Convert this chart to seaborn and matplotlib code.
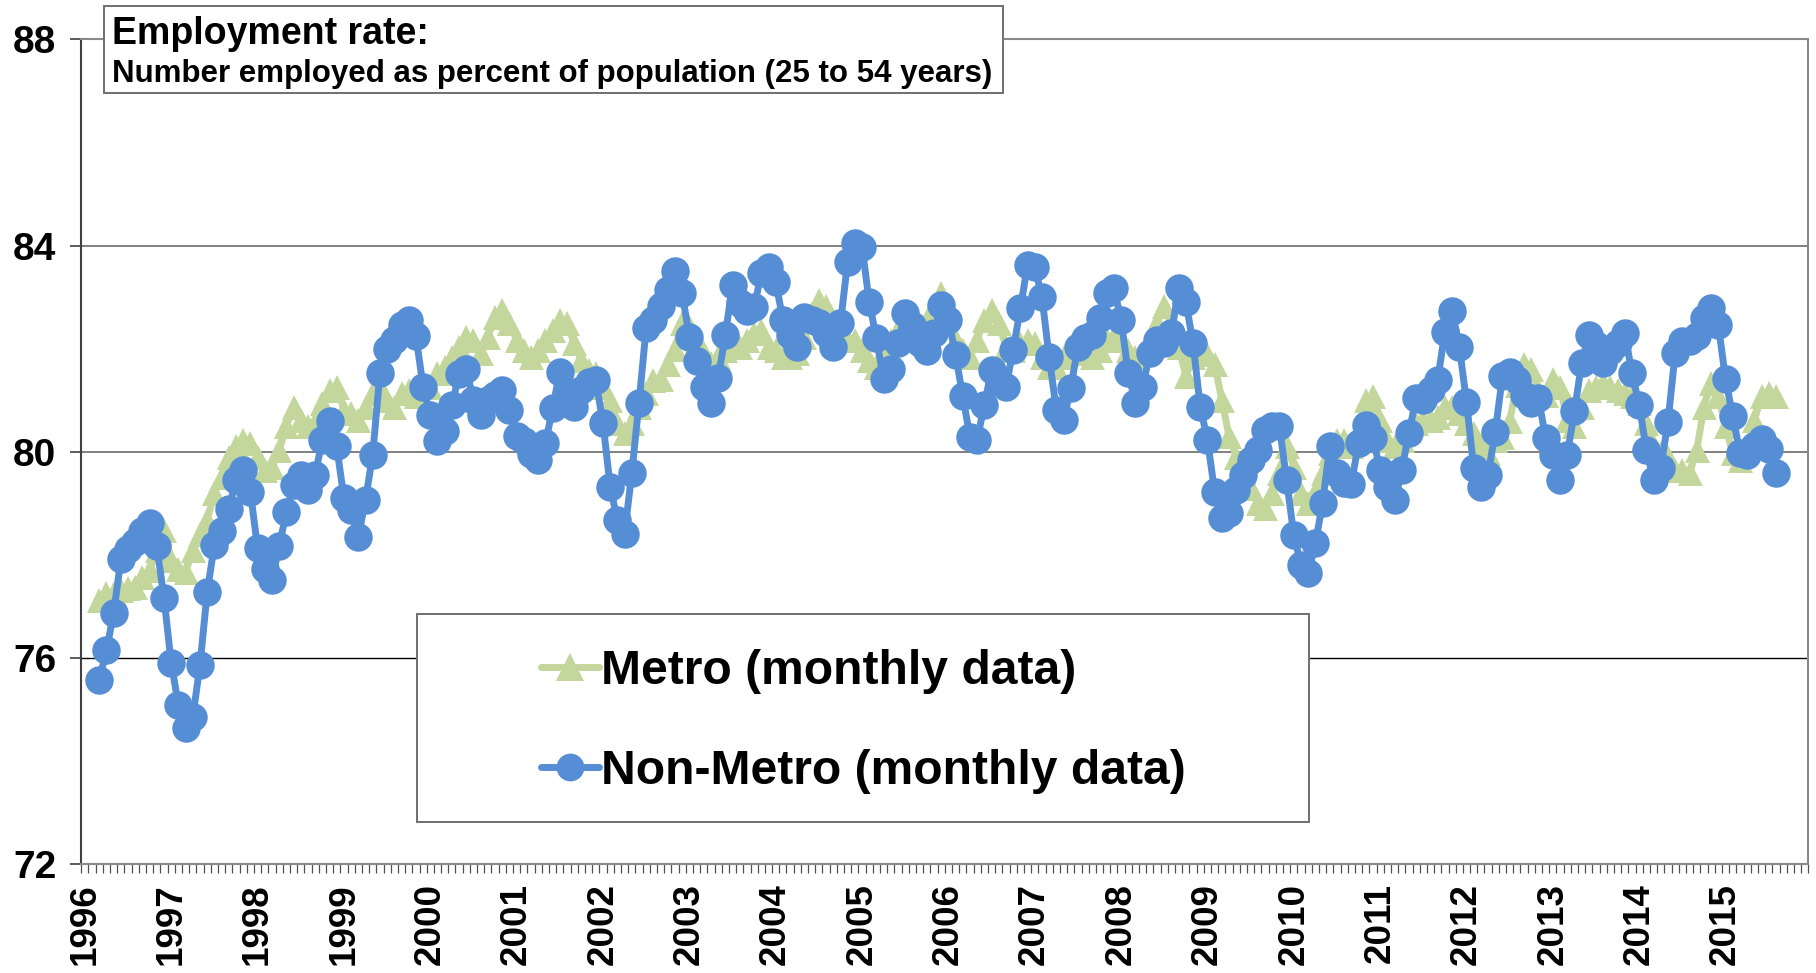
import numpy as np
import pandas as pd
import matplotlib
matplotlib.use("Agg")
import matplotlib.pyplot as plt
from matplotlib.patches import Rectangle
from matplotlib.lines import Line2D
import seaborn as sns

# ---------------- data ----------------
axis_months = pd.period_range("1996-01", "2015-12", freq="M")   # category axis
data_months = pd.period_range("1996-03", "2015-08", freq="M")   # months with data
year_labels = [str(y) for y in range(1996, 2016)]

metro = [
    # 1996 (Mar-Dec)
    77.12, 77.25, 77.25, 77.31, 77.35, 77.38, 77.57, 77.70, 78.09, 78.48,
    # 1997
    77.90, 77.73, 77.67, 78.09, 78.41, 78.67, 79.19, 79.51, 79.90, 80.10, 80.23, 80.16,
    # 1998
    79.90, 79.64, 79.71, 80.03, 80.49, 80.87, 80.61, 80.49, 80.55, 80.94, 81.20, 81.26,
    # 1999
    80.81, 80.74, 80.61, 80.87, 81.13, 81.26, 81.00, 80.87, 81.13, 81.20, 81.07, 81.33,
    # 2000
    81.26, 81.52, 81.65, 81.84, 82.04, 82.23, 82.17, 81.91, 82.23, 82.62, 82.75, 82.49,
    # 2001
    82.17, 81.97, 81.84, 81.97, 82.17, 82.36, 82.56, 82.49, 82.10, 81.78, 81.59, 81.52,
    # 2002
    81.26, 81.00, 80.55, 80.36, 80.55, 80.87, 81.13, 81.39, 81.40, 81.70, 82.00, 82.50,
    # 2003
    82.43, 82.17, 81.91, 81.72, 81.84, 81.97, 82.10, 82.04, 82.17, 82.30, 82.36, 82.04,
    # 2004
    81.97, 81.84, 81.84, 81.91, 82.23, 82.69, 82.95, 82.82, 82.56, 82.43, 82.17, 82.17,
    # 2005
    81.97, 81.78, 81.65, 81.91, 82.17, 82.36, 82.49, 82.43, 82.30, 82.49, 82.82, 83.07,
    # 2006
    82.69, 82.17, 81.97, 81.84, 82.17, 82.56, 82.75, 82.49, 82.04, 81.97, 82.10, 82.17,
    # 2007
    82.10, 81.84, 81.65, 81.65, 81.84, 81.97, 81.91, 81.97, 81.84, 81.97, 82.17, 82.23,
    # 2008
    82.17, 81.97, 81.84, 81.91, 82.10, 82.49, 82.82, 82.43, 82.04, 81.46, 81.84, 81.97,
    # 2009
    81.90, 81.70, 81.00, 80.30, 79.90, 79.60, 79.30, 79.00, 78.90, 79.20, 79.58, 80.10,
    # 2010
    79.71, 79.19, 79.00, 79.19, 79.58, 79.97, 80.23, 80.23, 80.10, 80.42, 81.00, 81.07,
    # 2011
    80.61, 80.23, 80.10, 80.23, 80.42, 80.55, 80.61, 80.61, 80.68, 80.87, 80.87, 80.74,
    # 2012
    80.55, 80.36, 80.10, 79.97, 80.23, 80.29, 80.60, 81.30, 81.70, 81.60, 81.20, 81.10,
    # 2013
    81.40, 81.26, 80.61, 80.49, 80.87, 81.20, 81.26, 81.33, 81.26, 81.20, 81.13, 81.07,
    # 2014
    80.94, 80.55, 80.10, 79.97, 79.90, 79.64, 79.64, 79.58, 80.03, 80.87, 81.33, 81.07,
    # 2015 (Jan-Aug)
    80.49, 79.97, 79.84, 80.10, 80.61, 81.07, 81.13, 81.07,
]

nonmetro = [
    # 1996 (Mar-Dec)
    75.57, 76.14, 76.87, 77.91, 78.10, 78.25, 78.45, 78.62, 78.16, 77.15,
    # 1997
    75.89, 75.08, 74.63, 74.85, 75.86, 77.28, 78.19, 78.45, 78.88, 79.45, 79.64, 79.22,
    # 1998
    78.12, 77.73, 77.51, 78.16, 78.83, 79.35, 79.55, 79.25, 79.55, 80.23, 80.60, 80.10,
    # 1999
    79.09, 78.87, 78.34, 79.07, 79.94, 81.52, 81.99, 82.17, 82.45, 82.56, 82.25, 81.26,
    # 2000
    80.71, 80.20, 80.40, 80.90, 81.50, 81.60, 81.00, 80.71, 81.00, 81.10, 81.20, 80.80,
    # 2001
    80.30, 80.20, 79.95, 79.84, 80.16, 80.84, 81.55, 81.07, 80.87, 81.20, 81.36, 81.39,
    # 2002
    80.55, 79.32, 78.67, 78.41, 79.58, 80.94, 82.40, 82.55, 82.82, 83.14, 83.50, 83.07,
    # 2003
    82.23, 81.75, 81.26, 80.94, 81.42, 82.27, 83.24, 82.88, 82.72, 82.80, 83.46, 83.59,
    # 2004
    83.30, 82.56, 82.27, 82.04, 82.62, 82.55, 82.50, 82.30, 82.04, 82.49, 83.69, 84.05,
    # 2005
    83.98, 82.90, 82.20, 81.40, 81.60, 82.10, 82.70, 82.45, 82.10, 81.95, 82.30, 82.85,
    # 2006
    82.56, 81.88, 81.07, 80.29, 80.23, 80.91, 81.59, 81.35, 81.26, 81.97, 82.78, 83.62,
    # 2007
    83.59, 83.00, 81.84, 80.81, 80.61, 81.23, 82.04, 82.20, 82.27, 82.60, 83.07, 83.17,
    # 2008
    82.56, 81.52, 80.94, 81.26, 81.91, 82.17, 82.10, 82.30, 83.17, 82.91, 82.10, 80.87,
    # 2009
    80.23, 79.22, 78.71, 78.80, 79.25, 79.55, 79.84, 80.03, 80.42, 80.50, 80.49, 79.45,
    # 2010
    78.38, 77.80, 77.64, 78.22, 79.00, 80.10, 79.58, 79.40, 79.38, 80.16, 80.52, 80.26,
    # 2011
    79.64, 79.32, 79.06, 79.64, 80.36, 81.04, 81.00, 81.20, 81.39, 82.33, 82.72, 82.04,
    # 2012
    80.97, 79.68, 79.32, 79.55, 80.39, 81.46, 81.55, 81.39, 81.10, 80.95, 81.04, 80.26,
    # 2013
    79.94, 79.45, 79.94, 80.78, 81.72, 82.27, 82.07, 81.72, 81.95, 82.10, 82.30, 81.52,
    # 2014
    80.91, 80.03, 79.45, 79.68, 80.58, 81.91, 82.14, 82.15, 82.25, 82.59, 82.78, 82.46,
    # 2015 (Jan-Aug)
    81.40, 80.70, 79.97, 79.94, 80.10, 80.25, 80.06, 79.58,
]

series_names = ["Metro (monthly data)", "Non-Metro (monthly data)"]
title_line1 = "Employment rate:"
title_line2 = "Number employed as percent of population (25 to 54 years)"

GREEN = "#C3D69B"
BLUE = "#558ED5"

# ---------------- frame ----------------
sns.set_style("white")
plt.rcParams["font.family"] = ["Liberation Sans", "DejaVu Sans"]
plt.rcParams["font.weight"] = "bold"
plt.rcParams["text.color"] = "black"
plt.rcParams["xtick.color"] = "black"
plt.rcParams["ytick.color"] = "black"

cat_pos = {m: i for i, m in enumerate(axis_months)}
df = pd.DataFrame({
    "pos": [cat_pos[m] for m in data_months],
    "metro": metro,
    "nonmetro": nonmetro,
})

W, H = 1816, 973
fig = plt.figure(figsize=(W / 100, H / 100), dpi=100)
ax = fig.add_axes([81.3 / W, 1 - 863.7 / H, (1808.3 - 81.3) / W, (863.7 - 39.5) / H])

sns.lineplot(data=df, x="pos", y="metro", ax=ax, color=GREEN, lw=5,
             marker="^", markersize=18, markeredgewidth=0, zorder=3,
             solid_capstyle="round", solid_joinstyle="round")
sns.lineplot(data=df, x="pos", y="nonmetro", ax=ax, color=BLUE, lw=5,
             marker="o", markersize=20.5, markeredgewidth=0, zorder=4,
             solid_capstyle="round", solid_joinstyle="round")

ax.set_xlim(-0.5, len(axis_months) - 0.5)
ax.set_ylim(72, 88)
ax.set_xlabel("")
ax.set_ylabel("")

# y axis
ax.set_yticks([72, 76, 80, 84, 88])
ax.set_yticklabels(["72", "76", "80", "84", "88"], fontsize=28, fontweight="bold")
ax.tick_params(axis="y", which="major", direction="out", length=8, width=1.2,
               color="#404040", labelcolor="black", pad=10, left=True)

# x axis: year labels at January categories, tick marks between categories
ax.set_xticks([cat_pos[pd.Period(f"{y}-01", freq="M")] for y in year_labels])
ax.set_xticklabels(year_labels, rotation=90, fontsize=26.5, fontweight="bold")
ax.set_xticks(np.arange(-0.5, len(axis_months), 1.0), minor=True)
ax.tick_params(axis="x", which="major", length=0, pad=14, bottom=True,
               labelcolor="black")
ax.tick_params(axis="x", which="minor", direction="out", length=6.5, width=0.9,
               color="#505050", bottom=True)

# gridlines
ax.grid(axis="y", which="major")
for val, gl in zip([72, 76, 80, 84, 88], ax.get_ygridlines()):
    if val in (72, 88):
        gl.set_visible(False)
    elif val == 76:
        gl.set_color("black"); gl.set_linewidth(1.0)
    else:
        gl.set_color("#808080"); gl.set_linewidth(1.4)
ax.set_axisbelow(True)

for side in ["top", "right", "bottom"]:
    ax.spines[side].set_color("#8a8a8a")
    ax.spines[side].set_linewidth(1.5)
ax.spines["left"].set_color("#404040")
ax.spines["left"].set_linewidth(1.5)

# title box
fig.add_artist(Rectangle((104 / W, 1 - 93 / H), (1003 - 104) / W, (93 - 6) / H,
                         transform=fig.transFigure, facecolor="white",
                         edgecolor="#6f6f6f", lw=1.4, zorder=5))
fig.text(112 / W, 1 - 44 / H, title_line1, fontsize=27, fontweight="bold",
         va="baseline", ha="left", zorder=6, color="black")
fig.text(112 / W, 1 - 82 / H, title_line2, fontsize=22.5, fontweight="bold",
         va="baseline", ha="left", zorder=6, color="black")

# legend box
fig.add_artist(Rectangle((417 / W, 1 - 822 / H), (1309 - 417) / W, (822 - 614) / H,
                         transform=fig.transFigure, facecolor="white",
                         edgecolor="#6f6f6f", lw=1.4, zorder=5))
handles = [
    Line2D([], [], color=GREEN, lw=5, marker="^", markersize=20, markeredgewidth=0,
           solid_capstyle="round"),
    Line2D([], [], color=BLUE, lw=5, marker="o", markersize=20, markeredgewidth=0,
           solid_capstyle="round"),
]
leg = fig.legend(handles, series_names, loc="upper left",
                 bbox_to_anchor=(541 / W, 1 - 649 / H), bbox_transform=fig.transFigure,
                 frameon=False, borderpad=0, borderaxespad=0,
                 handlelength=58 / 48, handletextpad=0.05, labelspacing=1.15,
                 prop={"size": 34.6, "weight": "bold"})
for t in leg.get_texts():
    t.set_color("black")
leg.set_zorder(6)

fig.savefig("out.png", dpi=100)
